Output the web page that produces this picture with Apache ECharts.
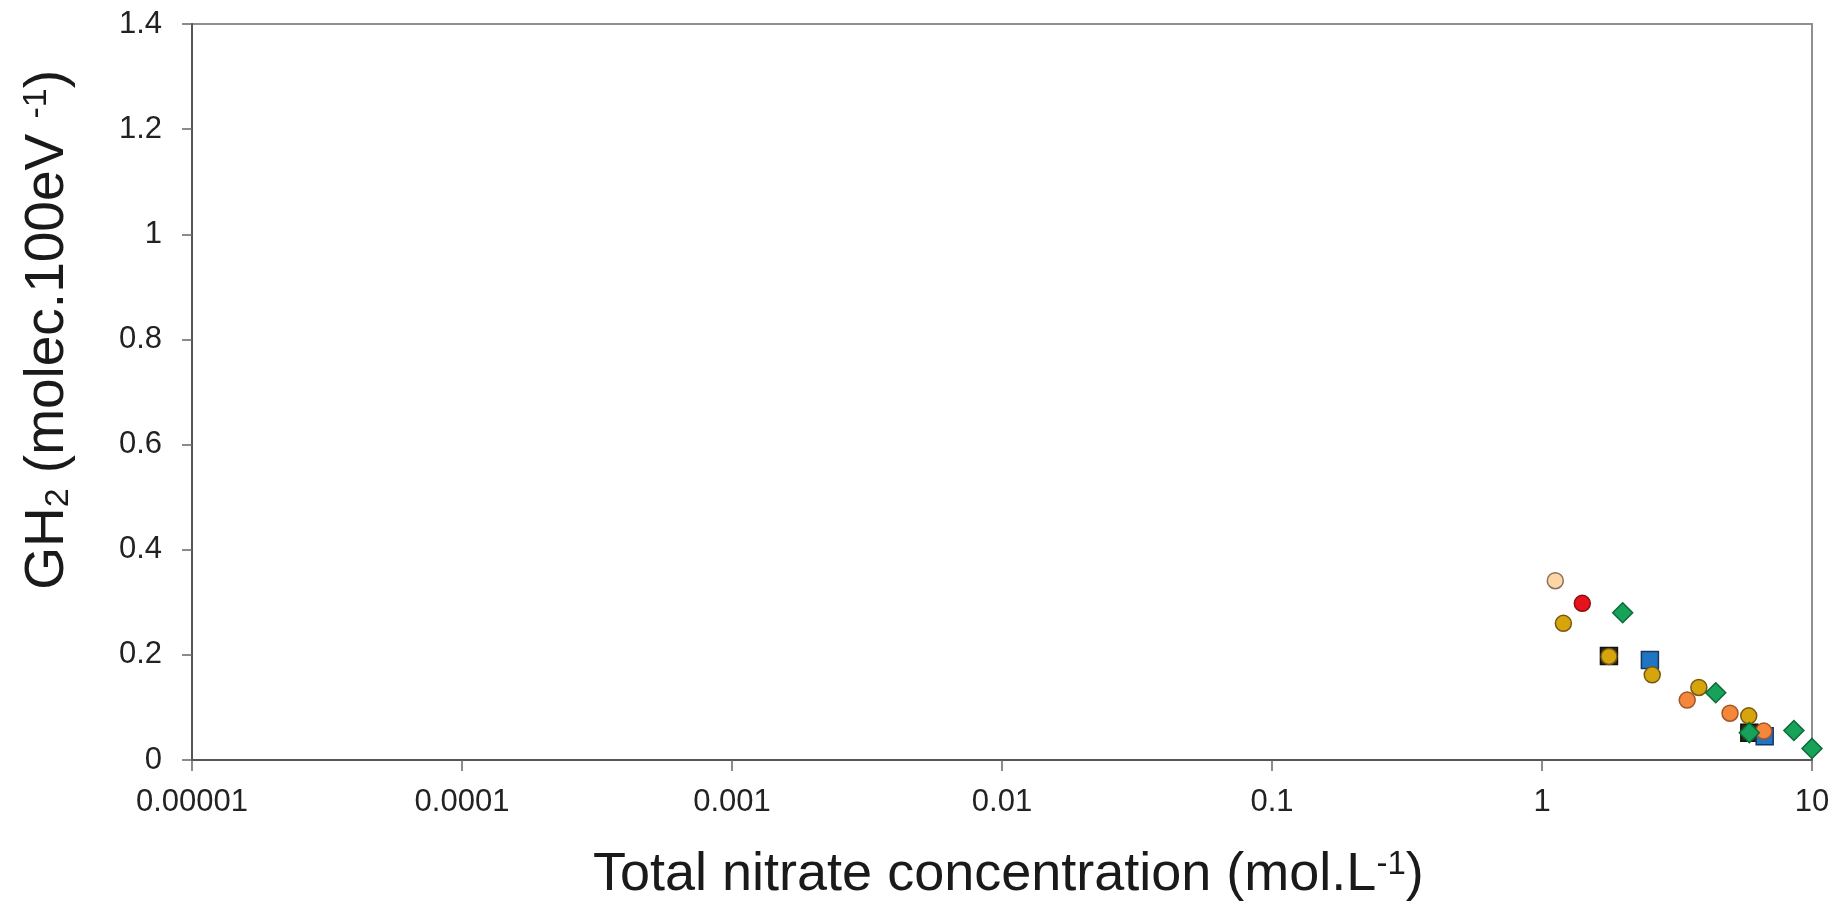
<!DOCTYPE html>
<html>
<head>
<meta charset="utf-8">
<script src="https://cdn.jsdelivr.net/npm/echarts@6/dist/echarts.min.js"></script>
<style>html,body{margin:0;padding:0;background:#fff;}#c{width:1843px;height:911px;}</style>
</head>
<body>
<div id="c"></div>
<script>
// ---- data ----
const xTickLabels = ['0.00001', '0.0001', '0.001', '0.01', '0.1', '1', '10'];
const yTickLabels = ['0', '0.2', '0.4', '0.6', '0.8', '1', '1.2', '1.4'];

const darkSquareX = [1.77, 5.86];
const darkSquareY = [0.198, 0.052];

const blueSquareX = [2.51, 6.68];
const blueSquareY = [0.190, 0.045];

const peachCircleX = [1.12];
const peachCircleY = [0.341];

const redCircleX = [1.41];
const redCircleY = [0.298];

const goldCircleX = [1.20, 1.77, 2.56, 3.81, 5.83];
const goldCircleY = [0.260, 0.197, 0.162, 0.138, 0.084];

const orangeCircleX = [3.45, 4.97, 6.63];
const orangeCircleY = [0.114, 0.089, 0.055];

const greenDiamondX = [1.99, 4.40, 5.86, 8.57, 10.0];
const greenDiamondY = [0.280, 0.128, 0.052, 0.056, 0.022];

function pairs(xs, ys) { return xs.map((x, i) => [x, ys[i]]); }

const chart = echarts.init(document.getElementById('c'), null, { renderer: 'canvas' });
const FONT = 'Liberation Sans, Arial, sans-serif';

function sc(name, xs, ys, symbol, size, fill, border) {
  return {
    name: name, type: 'scatter', data: pairs(xs, ys),
    symbol: symbol, symbolSize: size,
    itemStyle: { color: fill, borderColor: border, borderWidth: 1.5, opacity: 1 },
    emphasis: { disabled: true }, animation: false
  };
}

chart.setOption({
  animation: false,
  backgroundColor: '#fff',
  grid: { left: 192, right: 31, top: 24, bottom: 151, show: true, borderColor: '#8f8f8f', borderWidth: 2, backgroundColor: 'transparent' },
  xAxis: {
    type: 'log', logBase: 10, min: 0.00001, max: 10,
    axisLine: { show: true, onZero: false, lineStyle: { color: '#555', width: 2 } },
    axisTick: { show: true, length: 11, lineStyle: { color: '#666', width: 1.5 } },
    minorTick: { show: false },
    splitLine: { show: false },
    axisLabel: {
      margin: 27, fontFamily: FONT, fontSize: 31, color: '#222',
      formatter: function (v) { const i = Math.round(Math.log10(v)) + 5; return xTickLabels[i] !== undefined ? xTickLabels[i] : ''; }
    }
  },
  yAxis: {
    type: 'value', min: 0, max: 1.4, interval: 0.2,
    axisLine: { show: true, lineStyle: { color: '#555', width: 2 } },
    axisTick: { show: true, length: 10, lineStyle: { color: '#666', width: 1.5 } },
    splitLine: { show: false },
    axisLabel: {
      margin: 30, fontFamily: FONT, fontSize: 31, color: '#222',
      formatter: function (v) { const i = Math.round(v / 0.2); return yTickLabels[i] !== undefined ? yTickLabels[i] : ''; }
    }
  },
  graphic: [
    {
      type: 'text', left: 20, top: 70, rotation: Math.PI / 2, originX: 0, originY: 0,
      style: {
        x: 0, y: 0,
        text: 'GH{sub|2} (molec.100eV {sup|-1})',
        font: '55px ' + FONT, fill: '#1a1a1a',
        rich: {
          sub: { fontSize: 34, fontFamily: FONT, fill: '#1a1a1a', verticalAlign: 'bottom', padding: [18, 0, 0, 0] },
          sup: { fontSize: 34, fontFamily: FONT, fill: '#1a1a1a', verticalAlign: 'top', padding: [0, 0, 22, 0] }
        }
      }
    },
    {
      type: 'text', left: 593, top: 848,
      style: {
        text: 'Total nitrate concentration (mol.L{sup|-1})',
        font: '54px ' + FONT, fill: '#1a1a1a',
        rich: {
          sup: { fontSize: 33, fontFamily: FONT, fill: '#1a1a1a', verticalAlign: 'top', padding: [0, 0, 22, 0] }
        }
      }
    }
  ],
  series: [
    sc('darkSquare', darkSquareX, darkSquareY, 'rect', 17, '#2e2a12', '#111'),
    sc('blueSquare', blueSquareX, blueSquareY, 'rect', 17, '#1f74c4', '#1b3560'),
    sc('peachCircle', peachCircleX, peachCircleY, 'circle', 16, '#fdd6a6', '#8c6e5a'),
    sc('redCircle', redCircleX, redCircleY, 'circle', 16, '#e6121c', '#8a1010'),
    sc('goldCircle', goldCircleX, goldCircleY, 'circle', 16, '#d6a40c', '#76590e'),
    sc('orangeCircle', orangeCircleX, orangeCircleY, 'circle', 16, '#f5873a', '#a2552a'),
    sc('greenDiamond', greenDiamondX, greenDiamondY, 'diamond', 20, '#17a25a', '#0c6a38')
  ]
});
</script>
</body>
</html>
